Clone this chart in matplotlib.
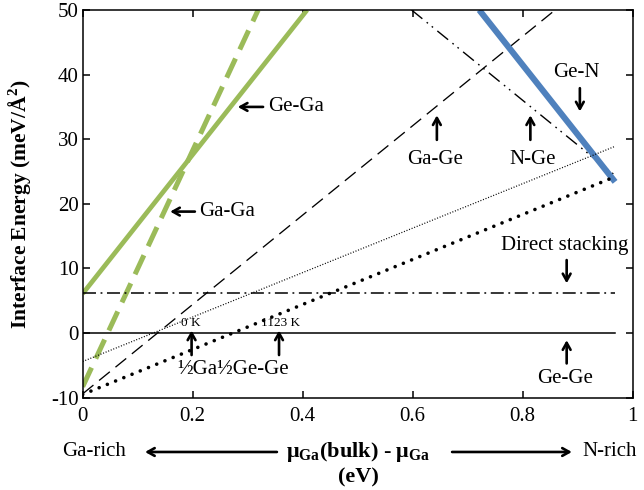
import matplotlib
matplotlib.use('Agg')
import matplotlib.pyplot as plt
from matplotlib.ticker import FormatStrFormatter

plt.rcParams['font.family'] = ['Liberation Serif', 'DejaVu Serif']
plt.rcParams['mathtext.fontset'] = 'custom'
plt.rcParams['mathtext.rm'] = 'Liberation Serif'
plt.rcParams['mathtext.bf'] = 'Liberation Serif:bold'
plt.rcParams['axes.unicode_minus'] = False

# line end points, x = mu_Ga(bulk) - mu_Ga (eV), y = interface energy (meV/A^2)
gega_x = [0, 0.408]
gega_y = [6.1, 50]
gaga_x = [0, 0.319]
gaga_y = [-8.3, 50]
gage_x = [0, 0.859]
gage_y = [-9.4, 50]
nge_x = [0.598, 0.968]
nge_y = [50, 24.4]
gen_x = [0.721, 0.968]
gen_y = [50, 23.4]
direct_x = [0, 0.968]
direct_y = [6.2, 6.2]
gege_x = [0, 0.968]
gege_y = [0, 0]
half0k_x = [0, 0.968]
half0k_y = [-4.4, 28.9]
half1123k_x = [0, 0.968]
half1123k_y = [-9.5, 24.2]

xticks = [0, 0.2, 0.4, 0.6, 0.8, 1]
yticks = [-10, 0, 10, 20, 30, 40, 50]

green = '#9BBB59'
blue = '#4F81BD'
fs = 15

fig = plt.figure(figsize=(6.44, 4.90), dpi=100)
ax = fig.add_axes([0.1284, 0.1884, 0.854, 0.7912])

ax.plot(gega_x, gega_y, color=green, lw=3.4, solid_capstyle='butt')
ax.plot(gaga_x, gaga_y, color=green, lw=3.6, linestyle=(0, (4.2, 2.0)), dash_capstyle='butt')
ax.plot(gage_x, gage_y, color='k', lw=0.95, linestyle=(0, (10.5, 5.5)))
ax.plot(nge_x, nge_y, color='k', lw=1.0, linestyle=(0, (10, 4, 1.2, 3.5, 1.2, 4)))
ax.plot(gen_x, gen_y, color=blue, lw=4.4, solid_capstyle='butt')
ax.plot(direct_x, direct_y, color='k', lw=1.1, linestyle=(0, (8.5, 3, 1.2, 3)))
ax.plot(gege_x, gege_y, color='k', lw=1.1)
ax.plot(half0k_x, half0k_y, color='k', lw=0.9, linestyle=(0, (0.8, 1.4)))
ax.plot(half1123k_x, half1123k_y, color='k', lw=2.6, linestyle=(0, (0.01, 2.45)),
        dash_capstyle='round')

ax.set_xlim(0, 1)
ax.set_ylim(-10, 50)
ax.set_xticks(xticks)
ax.set_yticks(yticks)
ax.xaxis.set_major_formatter(FormatStrFormatter('%g'))
ax.tick_params(direction='in', length=5, width=1.1, labelsize=fs,
               top=True, right=True)
ax.tick_params(axis='x', pad=7)
ax.tick_params(axis='y', pad=3)
for s in ax.spines.values():
    s.set_linewidth(1.1)

ax.set_ylabel('Interface Energy (meV/Å$^\\mathbf{2}$)', fontsize=15.5, fontweight='bold')
ax.yaxis.set_label_coords(-0.089, 0.5)

arrow = dict(arrowstyle='->,head_length=0.5,head_width=0.28', lw=1.9, color='k',
             shrinkA=0, shrinkB=0)

def label(txt, tip, tail, pos, ha='center', size=fs):
    ax.annotate('', xy=tip, xytext=tail, arrowprops=arrow)
    ax.text(pos[0], pos[1], txt, ha=ha, va='center', fontsize=size)

label('Ge-Ga', (0.282, 35), (0.328, 35), (0.337, 35), ha='left')
label('Ga-Ga', (0.159, 18.8), (0.204, 18.8), (0.212, 18.8), ha='left')
label('Ga-Ge', (0.644, 33.7), (0.644, 29.9), (0.641, 26.8))
label('N-Ge', (0.814, 33.7), (0.814, 29.9), (0.819, 26.8))
label('Ge-N', (0.904, 34.3), (0.904, 37.9), (0.898, 40.4))
label('Direct stacking', (0.88, 7.7), (0.88, 11.3), (0.877, 13.6))
label('Ge-Ge', (0.88, -1.1), (0.88, -4.7), (0.877, -7.0))
label('0 K', (0.198, 0.4), (0.198, -3.4), (0.196, 1.6), size=9.5)
label('1123 K', (0.357, 0.4), (0.357, -3.4), (0.359, 1.6), size=9.5)
ax.text(0.273, -5.6, '½Ga½Ge-Ge', ha='center', va='center', fontsize=fs)

# x axis label with Ga-rich / N-rich arrows
fig.text(0.556, 0.0776, 'μ$_\\mathbf{Ga}$(bulk) - μ$_\\mathbf{Ga}$', ha='center', va='center',
         fontsize=16, fontweight='bold')
fig.text(0.556, 0.0265, '(eV)', ha='center', va='center', fontsize=16, fontweight='bold')
fig.text(0.1467, 0.0776, 'Ga-rich', ha='center', va='center', fontsize=fs)
fig.text(0.905, 0.0776, 'N-rich', ha='left', va='center', fontsize=fs)
ax.annotate('', xy=(0.2252, 0.0776), xytext=(0.430, 0.0776), xycoords='figure fraction',
            textcoords='figure fraction', arrowprops=arrow, annotation_clip=False)
ax.annotate('', xy=(0.888, 0.0776), xytext=(0.702, 0.0776), xycoords='figure fraction',
            textcoords='figure fraction', arrowprops=arrow, annotation_clip=False)

fig.savefig('out.png', dpi=100)
